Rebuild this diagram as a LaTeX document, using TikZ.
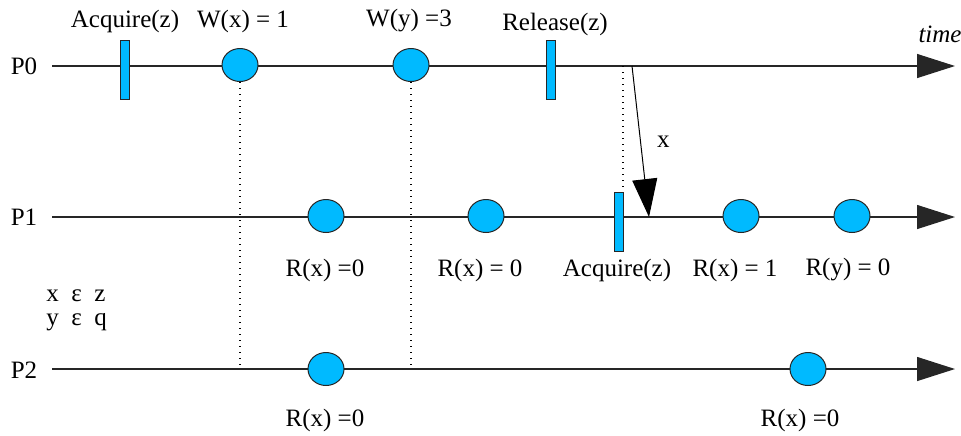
\documentclass[tikz,border=0pt]{standalone}
\usepackage{fontspec}
\setmainfont{Liberation Serif}
\usetikzlibrary{arrows.meta,shapes.geometric}

\definecolor{evblue}{RGB}{0,186,255}
\tikzset{
  timeline/.style={line width=0.6pt,draw=black!85,-{Triangle[length=19pt,width=12pt]}},
  ev/.style={ellipse,draw=black!85,line width=0.5pt,fill=evblue,minimum width=18pt,minimum height=16.5pt,inner sep=0pt},
  lockbar/.style={rectangle,draw=black!85,line width=0.5pt,fill=evblue,minimum width=4.5pt,minimum height=29.5pt,inner sep=0pt},
  dotline/.style={line width=0.55pt,dash pattern=on 0.6pt off 2.4pt},
  msg/.style={line width=0.5pt,-{Triangle[length=19pt,width=12.5pt]}},
  lbl/.style={font=\fontsize{12.5}{14}\selectfont,inner sep=0pt}
}

\begin{document}
\begin{tikzpicture}[x=0.5pt,y=-0.5pt]
  \useasboundingbox (0,0) rectangle (961,435);
  % process names
  \node[lbl] (p0) at (24,66) {P0};
  \node[lbl] (p1) at (24,217) {P1};
  \node[lbl] (p2) at (24,370) {P2};
  % time lines
  \coordinate (p0s) at (52,66);  \coordinate (p0e) at (955,66);
  \coordinate (p1s) at (52,217); \coordinate (p1e) at (955,217);
  \coordinate (p2s) at (52,369); \coordinate (p2e) at (955,369);
  \draw[timeline] (p0s) -- (p0e);
  \draw[timeline] (p1s) -- (p1e);
  \draw[timeline] (p2s) -- (p2e);
  \node[lbl,font=\fontsize{12.5}{14}\selectfont\itshape] (time) at (940,34) {time};

  % P0 events
  \node[lockbar] (acq0) at (124.5,69.5) {};
  \node[ev] (wx) at (240,65) {};
  \node[ev] (wy) at (411,65) {};
  \node[lockbar] (rel0) at (551,69.5) {};
  \node[lbl] at (125,21) {Acquire(z)};
  \node[lbl] at (243,21) {W(x) = 1};
  \node[lbl] at (409,21) {W(y) =3};
  \node[lbl] at (555,24) {Release(z)};

  % P1 events
  \node[ev] (r1a) at (326,216) {};
  \node[ev] (r1b) at (486,216) {};
  \node[lockbar] (acq1) at (618.5,221.5) {};
  \node[ev] (r1c) at (741,216) {};
  \node[ev] (r1d) at (852,216) {};
  \node[lbl] at (325,270) {R(x) =0};
  \node[lbl] at (480,270) {R(x) = 0};
  \node[lbl] at (617,270) {Acquire(z)};
  \node[lbl] at (735,270) {R(x) = 1};
  \node[lbl] at (848,270) {R(y) = 0};

  % P2 events
  \node[ev] (r2a) at (326,369) {};
  \node[ev] (r2b) at (808,369) {};
  \node[lbl] at (325,420) {R(x) =0};
  \node[lbl] at (800,420) {R(x) =0};

  % scopes
  \node[lbl,anchor=west,align=left,font=\fontsize{12.5}{12}\selectfont] (scopes) at (46,310)
    {x~~\char"03B5~~z\\y~~\char"03B5~~q};

  % dotted guides
  \draw[dotline] (wx.south) -- (wx.south |- p2s);
  \draw[dotline] (wy.south) -- (wy.south |- p2s);
  \coordinate (relmark) at (623,66);
  \draw[dotline] (relmark) -- (relmark |- acq1.north);

  % message
  \coordinate (send) at (632,66);
  \coordinate (recv) at (649,217);
  \draw[msg] (send) -- (recv) node[lbl,pos=0.5,right=8pt] {x};
\end{tikzpicture}
\end{document}
